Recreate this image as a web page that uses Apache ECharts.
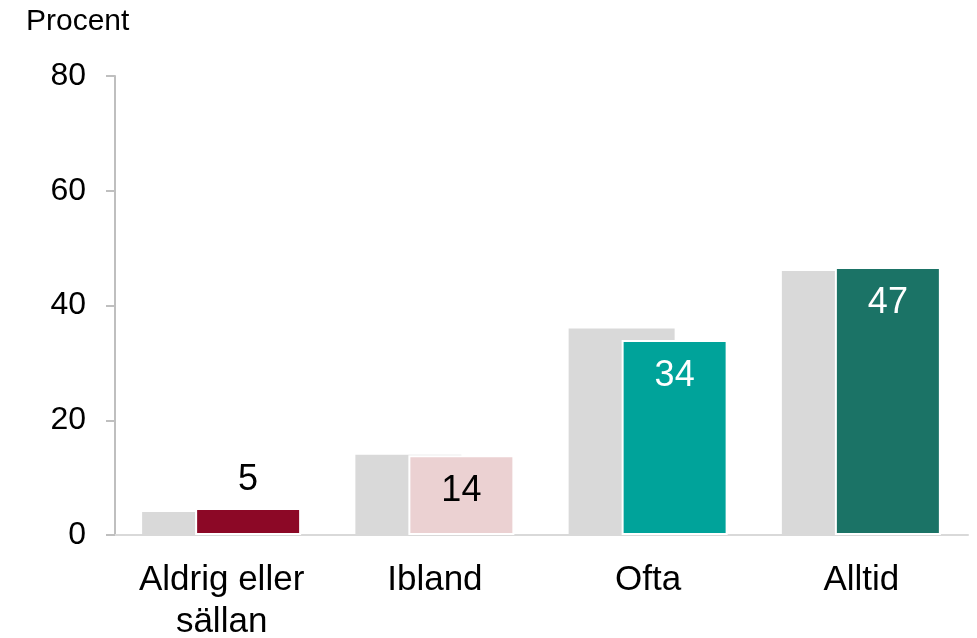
<!DOCTYPE html>
<html>
<head>
<meta charset="utf-8">
<script src="https://cdn.jsdelivr.net/npm/echarts@6/dist/echarts.min.js"></script>
<style>
  html, body { margin: 0; padding: 0; background: #fff; }
  #chart { width: 977px; height: 638px; }
</style>
</head>
<body>
<div id="chart"></div>
<script>
// data
const categories = ['Aldrig eller\nsällan', 'Ibland', 'Ofta', 'Alltid']
const previousValues = [4, 14, 36, 46]
const currentValues = [4.7, 13.9, 34, 46.7]
const yTicks = [0, 20, 40, 60, 80]

// styling per category
const barColors = ['#8c0826', '#ebd1d2', '#00a39a', '#1b7366']
const labelColors = ['#000', '#000', '#fff', '#fff']
const FONT = 'Liberation Sans, Arial, sans-serif'

const chart = echarts.init(document.getElementById('chart'), null, { renderer: 'canvas' })

const currentData = currentValues.map((v, i) => ({
  value: v,
  itemStyle: { color: barColors[i] },
  label: {
    position: i === 0 ? 'top' : 'insideTop',
    distance: i === 0 ? 10 : 18,
    color: labelColors[i]
  }
}))

chart.setOption({
  animation: false,
  title: {
    text: 'Procent',
    left: 21,
    top: 2,
    textStyle: { fontFamily: FONT, fontSize: 30, fontWeight: 'normal', color: '#000' }
  },
  grid: { left: 115, right: 9, top: 76, bottom: 103, outerBoundsMode: 'none', containLabel: false },
  xAxis: {
    type: 'category',
    data: categories,
    axisLine: { lineStyle: { color: '#d9d9d9', width: 2 } },
    axisTick: { show: false },
    axisLabel: {
      color: '#000',
      fontFamily: FONT,
      fontSize: 35,
      lineHeight: 42,
      margin: 24,
      interval: 0
    }
  },
  yAxis: {
    type: 'value',
    min: yTicks[0],
    max: yTicks[yTicks.length - 1],
    interval: 20,
    axisLine: { show: true, lineStyle: { color: '#bfbfbf', width: 2 } },
    axisTick: { show: true, length: 9, lineStyle: { color: '#bfbfbf', width: 2 } },
    splitLine: { show: false },
    axisLabel: {
      color: '#000',
      fontFamily: FONT,
      fontSize: 32,
      margin: 29
    }
  },
  series: [
    {
      name: 'previous',
      type: 'bar',
      data: previousValues,
      barWidth: 106,
      barGap: '-50%',
      itemStyle: { color: '#d9d9d9' },
      silent: true
    },
    {
      name: 'current',
      type: 'bar',
      data: currentData,
      barWidth: 106,
      itemStyle: { borderColor: '#fff', borderWidth: 2 },
      label: {
        show: true,
        fontFamily: FONT,
        fontSize: 36,
        formatter: (p) => String(Math.round(p.value))
      }
    }
  ]
})
</script>
</body>
</html>
